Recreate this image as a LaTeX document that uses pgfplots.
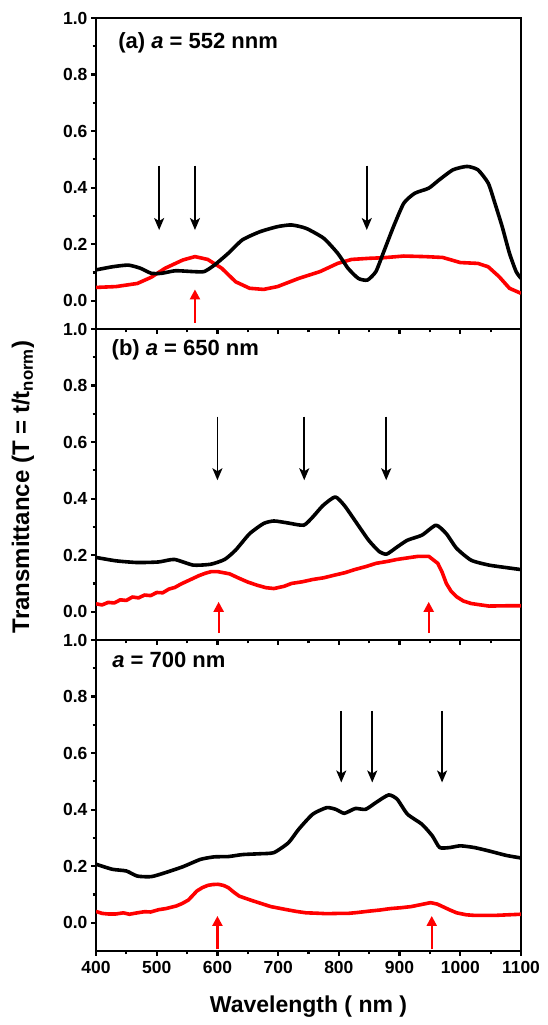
\documentclass[border=0pt]{standalone}
\usepackage{fontspec}
\setmainfont{Liberation Sans}
\usepackage{pgfplots}
\pgfplotsset{compat=1.18}
\usetikzlibrary{arrows.meta}

\pgfplotsset{
  panel/.style={
    scale only axis, width=425pt, height=311pt, anchor=south west,
    xmin=400, xmax=1100, ymin=-0.1, ymax=1.0,
    xtick={400,500,600,700,800,900,1000,1100}, minor x tick num=1,
    ytick={0,0.2,0.4,0.6,0.8,1.0}, minor y tick num=1,
    tick align=outside, xtick pos=bottom, ytick pos=left,
    axis line style={line width=2.8pt},
    major tick length=5pt, minor tick length=3.5pt,
    every tick/.append style={line width=2.2pt, black},
    tick label style={font=\fontsize{17.5}{17.5}\selectfont\bfseries},
    yticklabel style={/pgf/number format/fixed, /pgf/number format/fixed zerofill,
      /pgf/number format/precision=1},
    xticklabel style={yshift=-2pt},
    /pgf/number format/1000 sep={},
    /pgf/number format/assume math mode=true,
  },
}
\tikzset{
  blk/.style={black, line width=3.6pt, line join=round, smooth, tension=0.35},
  rd/.style={red, line width=3.6pt, line join=round},
  darr/.style={black, line width=1.8pt, -{Stealth[length=12pt, width=10pt, inset=3pt]}},
  uarr/.style={red, line width=2.2pt, -{Triangle[length=10pt, width=10pt]}},
  lab/.style={anchor=west, font=\fontsize{22}{22}\selectfont\bfseries},
}

\begin{document}
\begin{tikzpicture}
\useasboundingbox (0,0) rectangle (547pt,1025pt);

% (a)
\begin{axis}[panel, at={(96pt,696pt)}, xticklabels={}]
\addplot[rd] coordinates {
(400,0.047) (433,0.050) (468,0.061) (491,0.083) (514,0.115) (543,0.144)
(563,0.156) (584,0.146) (607,0.115) (630,0.067) (653,0.044) (676,0.040)
(699,0.050) (734,0.079) (769,0.103) (798,0.132) (821,0.146) (850,0.150)
(873,0.152) (907,0.158) (942,0.156) (971,0.153) (1000,0.135) (1029,0.132)
(1046,0.120) (1064,0.085) (1081,0.044) (1100,0.026)};
\addplot[blk] coordinates {
(400,0.109) (427,0.120) (453,0.126) (473,0.115) (491,0.097) (508,0.097)
(531,0.106) (560,0.103) (578,0.103) (595,0.126) (618,0.168) (641,0.215)
(670,0.244) (699,0.262) (722,0.268) (746,0.256) (775,0.221) (798,0.168)
(815,0.115) (832,0.079) (847,0.073) (861,0.103) (873,0.168) (890,0.262)
(907,0.345) (925,0.380) (948,0.398) (965,0.427) (988,0.463) (1011,0.475)
(1029,0.463) (1046,0.416) (1057,0.345) (1069,0.262) (1081,0.168)
(1092,0.103) (1100,0.079)};
\draw[darr] (axis cs:504,0.478) -- (axis cs:504,0.25);
\draw[darr] (axis cs:563,0.478) -- (axis cs:563,0.25);
\draw[darr] (axis cs:846,0.478) -- (axis cs:846,0.25);
\draw[uarr] (axis cs:563,-0.078) -- (axis cs:563,0.04);
\node[lab] at (axis cs:431,0.911) {(a) \textit{a} = 552 nnm};
\end{axis}

% (b)
\begin{axis}[panel, at={(96pt,385pt)}, xticklabels={}]
\addplot[rd] coordinates {
(400,0.028) (410,0.024) (420,0.033) (430,0.031) (440,0.042) (450,0.040)
(460,0.052) (470,0.049) (480,0.059) (490,0.057) (500,0.068) (510,0.067)
(520,0.080) (530,0.086) (540,0.098) (550,0.108) (560,0.118) (570,0.128)
(580,0.136) (590,0.142) (600,0.142) (610,0.138) (620,0.134) (636,0.118)
(650,0.105) (665,0.094) (680,0.085) (693,0.082) (710,0.090) (722,0.100)
(740,0.106) (757,0.114) (775,0.120) (792,0.129) (810,0.138) (826,0.149)
(845,0.160) (861,0.171) (880,0.178) (896,0.185) (915,0.191) (931,0.196)
(948,0.196) (963,0.171) (970,0.140) (977,0.100) (985,0.072) (994,0.053)
(1005,0.038) (1018,0.029) (1047,0.020) (1076,0.021) (1100,0.021)};
\addplot[blk] coordinates {
(400,0.192) (433,0.180) (468,0.174) (503,0.176) (529,0.185) (560,0.165)
(589,0.168) (612,0.185) (630,0.218) (653,0.276) (676,0.312) (693,0.321)
(716,0.314) (742,0.306) (757,0.335) (774,0.376) (794,0.406) (809,0.376)
(826,0.324) (849,0.253) (867,0.212) (879,0.204) (896,0.229) (913,0.253)
(937,0.271) (960,0.306) (977,0.276) (994,0.224) (1018,0.182) (1047,0.165)
(1076,0.156) (1100,0.149)};
\draw[darr] (axis cs:600,0.69) -- (axis cs:600,0.465);
\draw[darr] (axis cs:743,0.69) -- (axis cs:743,0.465);
\draw[darr] (axis cs:878,0.69) -- (axis cs:878,0.465);
\draw[uarr] (axis cs:602,-0.076) -- (axis cs:602,0.035);
\draw[uarr] (axis cs:948,-0.076) -- (axis cs:948,0.035);
\node[lab] at (axis cs:420,0.925) {(b) \textit{a} = 650 nm};
\end{axis}

% (c)
\begin{axis}[panel, at={(96pt,74pt)}]
\addplot[rd] coordinates {
(400,0.040) (410,0.033) (420,0.031) (433,0.031) (445,0.035) (455,0.030)
(468,0.035) (480,0.039) (490,0.038) (503,0.046) (515,0.050) (532,0.059)
(542,0.068) (552,0.080) (560,0.098) (566,0.112) (575,0.124) (584,0.132)
(592,0.135) (601,0.136) (610,0.132) (618,0.124) (627,0.108) (636,0.094)
(648,0.085) (659,0.077) (675,0.066) (688,0.057) (700,0.052) (717,0.045)
(730,0.040) (746,0.035) (760,0.034) (780,0.032) (800,0.033) (815,0.033)
(830,0.036) (850,0.041) (868,0.045) (885,0.050) (902,0.053) (919,0.057)
(935,0.064) (951,0.071) (962,0.066) (971,0.057) (983,0.045) (994,0.035)
(1010,0.028) (1023,0.026) (1058,0.026) (1100,0.030)};
\addplot[blk] coordinates {
(400,0.207) (427,0.189) (450,0.183) (468,0.165) (491,0.163) (514,0.177)
(543,0.198) (572,0.224) (595,0.233) (618,0.234) (641,0.241) (670,0.244)
(693,0.248) (717,0.283) (734,0.331) (757,0.384) (780,0.407) (795,0.401)
(809,0.387) (827,0.404) (844,0.401) (861,0.425) (882,0.452) (896,0.437)
(913,0.384) (937,0.348) (954,0.307) (966,0.266) (983,0.266) (1000,0.272)
(1023,0.266) (1047,0.254) (1076,0.238) (1100,0.229)};
\draw[darr] (axis cs:804,0.749) -- (axis cs:804,0.496);
\draw[darr] (axis cs:855,0.749) -- (axis cs:855,0.496);
\draw[darr] (axis cs:970,0.749) -- (axis cs:970,0.496);
\draw[uarr] (axis cs:600,-0.094) -- (axis cs:600,0.024);
\draw[uarr] (axis cs:953,-0.094) -- (axis cs:953,0.024);
\node[lab] at (axis cs:421,0.93) {\textit{a} = 700 nm};
\end{axis}

\node[rotate=90, font=\fontsize{24}{24}\selectfont\bfseries] at (23pt,538pt)
  {Transmittance (T = t/t\textsubscript{norm})};
\node[font=\fontsize{23}{23}\selectfont\bfseries] at (308.5pt,18pt)
  {Wavelength ( nm )};
\end{tikzpicture}
\end{document}
